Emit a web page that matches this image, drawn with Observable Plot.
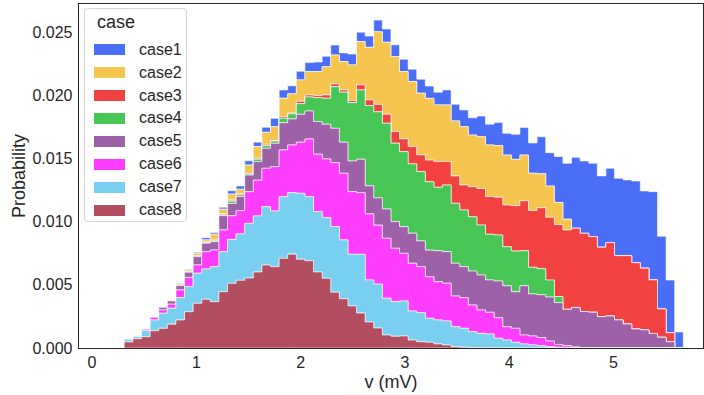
<!DOCTYPE html>
<html><head><meta charset="utf-8">
<script src="https://cdn.jsdelivr.net/npm/d3@7"></script>
<script src="https://cdn.jsdelivr.net/npm/@observablehq/plot@0.6"></script>
<style>
body{margin:0;background:#fff;}
#wrap{position:relative;width:704px;height:395px;font-family:"Liberation Sans",Arial,sans-serif;color:#262626;}
#legend{position:absolute;left:84px;top:8px;width:103px;height:214px;box-sizing:border-box;border:1px solid #d4d4d4;border-radius:4px;background:rgba(255,255,255,0.85);}
.lt{position:absolute;font-size:16px;line-height:16px;white-space:nowrap;}
.sw{position:absolute;width:31px;height:11px;}
</style></head>
<body><div id="wrap"></div>
<script>
// histogram bins: 65 equal bins from binMin to binMax (v, mV)
const binMin = 0.3145, binMax = 5.674;
const cases = ["case1","case2","case3","case4","case5","case6","case7","case8"];
const colors = ["#4a6ef7","#f5c54f","#f24141","#47c655","#9d61a8","#ff3dff","#78cff0","#b34e60"];
const xTicks = [0,1,2,3,4,5];
const yTicks = [0,0.005,0.01,0.015,0.02,0.025];
const xLabel = "v (mV)", yLabel = "Probability", legendTitle = "case";

const case1 = [0.00002,0.00002,0.00001,0.00002,0.00002,0.00003,0.00006,0.00006,0.00008,0.00018,
0.00013,0.00016,0.00026,0.00026,0.00034,0.00035,0.00040,0.00067,0.00066,0.00063,
0.00069,0.00071,0.00075,0.00082,0.00079,0.00069,0.00086,0.00074,0.00089,0.00093,
0.00105,0.00093,0.00098,0.00098,0.00111,0.00097,0.00101,0.00119,0.00132,0.00132,
0.00137,0.00164,0.00164,0.00182,0.00172,0.00198,0.00219,0.00240,0.00293,0.00264,
0.00363,0.00443,0.00562,0.00573,0.00581,0.00565,0.00588,0.00613,0.00600,0.00647,
0.00612,0.00699,0.00576,0.00417,0.00127];
const case2 = [0.00001,0.00002,0.00002,0.00001,0.00001,0.00002,0.00010,0.00012,0.00020,0.00018,
0.00041,0.00037,0.00048,0.00037,0.00066,0.00092,0.00095,0.00111,0.00146,0.00153,
0.00169,0.00185,0.00190,0.00224,0.00230,0.00224,0.00283,0.00343,0.00416,0.00575,
0.00570,0.00594,0.00533,0.00515,0.00489,0.00489,0.00449,0.00449,0.00436,0.00462,
0.00409,0.00410,0.00409,0.00409,0.00396,0.00367,0.00362,0.00295,0.00269,0.00248,
0.00176,0.00086,0,0,0,0,0,0,0,0,
0,0,0,0,0];
const case3 = [0,0,0,0,0.00001,0.00001,0.00002,0.00002,0.00003,0.00003,
0.00008,0.00008,0.00008,0.00008,0.00006,0.00008,0.00011,0.00002,0.00013,0.00006,
0.00019,0.00016,0.00016,0.00026,0.00021,0.00018,0.00016,0.00040,0.00045,0.00059,
0.00071,0.00092,0.00101,0.00137,0.00132,0.00172,0.00203,0.00185,0.00216,0.00198,
0.00238,0.00289,0.00298,0.00299,0.00330,0.00359,0.00396,0.00450,0.00483,0.00497,
0.00570,0.00628,0.00627,0.00619,0.00599,0.00550,0.00582,0.00509,0.00541,0.00525,
0.00489,0.00424,0.00224,0.00071,0];
const case4 = [0.00001,0.00001,0,0,0.00001,0.00002,0.00002,0.00004,0.00004,0.00005,
0.00010,0.00006,0.00018,0.00013,0.00008,0.00019,0.00021,0.00018,0.00035,0.00040,
0.00084,0.00111,0.00190,0.00206,0.00329,0.00396,0.00462,0.00549,0.00636,0.00681,
0.00679,0.00621,0.00594,0.00549,0.00549,0.00541,0.00502,0.00528,0.00475,0.00449,
0.00430,0.00396,0.00362,0.00364,0.00309,0.00322,0.00277,0.00211,0.00206,0.00135,
0.00048,0,0,0,0,0,0,0,0,0,
0,0,0,0,0];
const case5 = [0.00002,0.00002,0.00002,0.00002,0.00021,0.00026,0.00034,0.00040,0.00066,0.00067,
0.00066,0.00113,0.00098,0.00111,0.00132,0.00147,0.00158,0.00185,0.00216,0.00206,
0.00221,0.00222,0.00258,0.00275,0.00272,0.00246,0.00243,0.00265,0.00222,0.00216,
0.00232,0.00211,0.00211,0.00238,0.00204,0.00211,0.00246,0.00250,0.00259,0.00246,
0.00269,0.00277,0.00256,0.00291,0.00325,0.00290,0.00390,0.00333,0.00339,0.00348,
0.00331,0.00288,0.00313,0.00285,0.00283,0.00248,0.00253,0.00222,0.00190,0.00150,
0.00143,0.00115,0.00085,0.00050,0];
const case6 = [0.00002,0.00006,0.00011,0.00021,0.00026,0.00032,0.00061,0.00074,0.00066,0.00137,
0.00132,0.00172,0.00187,0.00185,0.00250,0.00283,0.00304,0.00351,0.00370,0.00378,
0.00405,0.00457,0.00455,0.00465,0.00507,0.00528,0.00496,0.00488,0.00523,0.00467,
0.00475,0.00423,0.00378,0.00378,0.00364,0.00329,0.00303,0.00299,0.00243,0.00242,
0.00211,0.00185,0.00172,0.00163,0.00105,0.00111,0.00071,0.00071,0.00065,0.00045,
0.00022,0.00016,0.00008,0.00004,0,0,0,0,0,0,
0,0,0,0,0];
const case7 = [0.00021,0.00016,0.00048,0.00085,0.00119,0.00127,0.00177,0.00198,0.00238,0.00240,
0.00277,0.00317,0.00348,0.00367,0.00433,0.00444,0.00462,0.00441,0.00488,0.00487,
0.00522,0.00507,0.00478,0.00480,0.00519,0.00466,0.00409,0.00465,0.00333,0.00348,
0.00291,0.00274,0.00277,0.00230,0.00230,0.00190,0.00190,0.00190,0.00157,0.00150,
0.00125,0.00114,0.00109,0.00077,0.00063,0.00045,0.00032,0.00024,0.00018,0.00010,
0.00006,0.00002,0,0,0,0,0,0,0,0,
0,0,0,0,0];
const case8 = [0.00048,0.00074,0.00089,0.00137,0.00156,0.00188,0.00222,0.00287,0.00354,0.00386,
0.00367,0.00446,0.00512,0.00536,0.00554,0.00602,0.00657,0.00644,0.00710,0.00743,
0.00703,0.00691,0.00602,0.00552,0.00442,0.00390,0.00333,0.00277,0.00206,0.00158,
0.00103,0.00093,0.00095,0.00063,0.00050,0.00045,0.00032,0.00024,0.00012,0.00006,
0.00004,0.00002,0.00002,0,0,0,0,0,0,0,
0,0,0,0,0,0,0,0,0,0,
0,0,0,0,0];

const series = [case1,case2,case3,case4,case5,case6,case7,case8];
const nBins = case1.length;
const bw = (binMax - binMin) / nBins;
const rows = [];
cases.forEach((c, k) => {
  const vals = series[k];
  for (let i = 0; i <= nBins; i++) {
    rows.push({case: c, x: binMin + i * bw, p: vals[Math.min(i, nBins - 1)]});
  }
});
const stackOrder = cases.slice().reverse();

const chart = Plot.plot({
  width: 704, height: 395,
  marginLeft: 78, marginRight: 1, marginTop: 3, marginBottom: 47,
  x: {domain: [-0.13, 5.863]},
  y: {domain: [0, 0.02732]},
  color: {domain: cases, range: colors},
  style: {fontFamily: "'Liberation Sans', Arial, sans-serif", fontSize: "16px", color: "#262626", background: "white"},
  marks: [
    Plot.areaY(rows, Plot.stackY({x: "x", y: "p", z: "case", fill: "case", order: stackOrder, curve: "step-after",
      stroke: "white", strokeOpacity: 0.6, strokeWidth: 1})),
    Plot.frame({stroke: "#262626", strokeWidth: 1}),
    Plot.axisX({ticks: xTicks, tickSize: 0, tickPadding: 8, tickFormat: d => String(d), label: null}),
    Plot.axisY({ticks: yTicks, tickSize: 0, tickPadding: 6, tickFormat: d3.format(".3f"), label: null}),
    Plot.text([xLabel], {frameAnchor: "bottom", dy: 34, lineAnchor: "middle", fontSize: 18, fill: "#262626"}),
    Plot.text([yLabel], {frameAnchor: "left", dx: -59, rotate: -90, lineAnchor: "middle", textAnchor: "middle", fontSize: 18, fill: "#262626"})
  ]
});
const wrap = document.getElementById("wrap");
wrap.appendChild(chart);

// legend overlay
const lg = document.createElement("div");
lg.id = "legend";
const t = document.createElement("div");
t.className = "lt"; t.textContent = legendTitle;
t.style.fontSize = "18px"; t.style.lineHeight = "18px";
t.style.left = "12px"; t.style.top = (13 - 9) + "px";
lg.appendChild(t);
cases.forEach((c, k) => {
  const cy = 40.7 + k * 22.9;
  const sw = document.createElement("div");
  sw.className = "sw"; sw.style.left = "9px"; sw.style.top = (cy - 5.5) + "px"; sw.style.background = colors[k];
  lg.appendChild(sw);
  const tx = document.createElement("div");
  tx.className = "lt"; tx.textContent = c; tx.style.left = "54px"; tx.style.top = (cy - 8) + "px";
  lg.appendChild(tx);
});
wrap.appendChild(lg);
</script>
</body></html>
